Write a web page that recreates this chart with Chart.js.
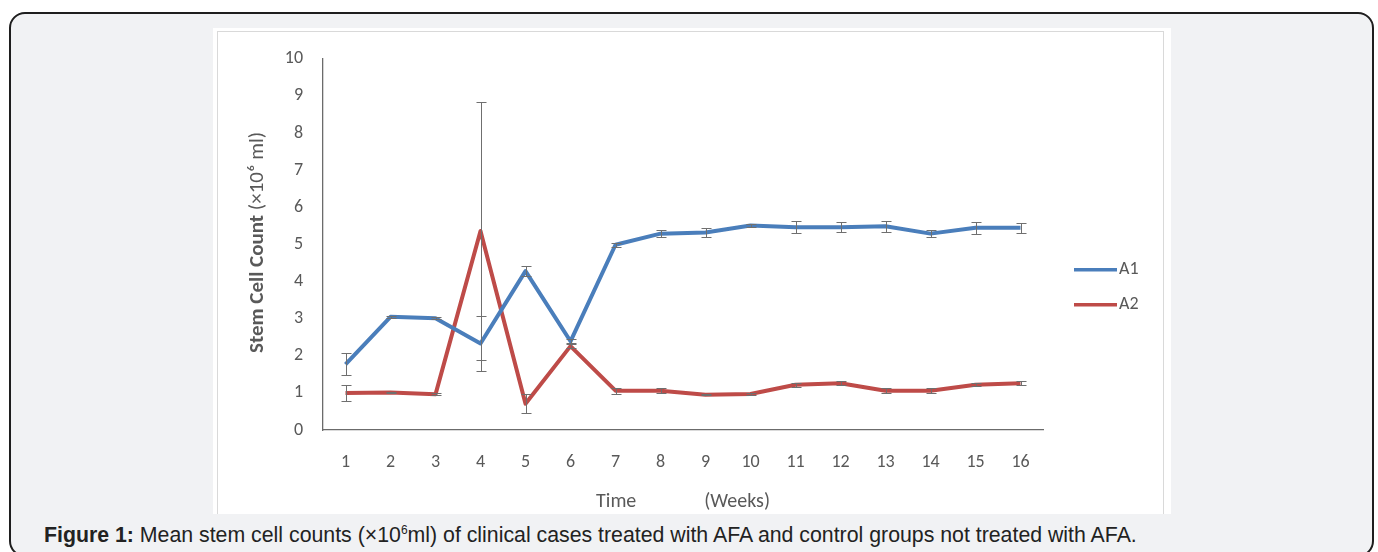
<!DOCTYPE html>
<html>
<head>
<meta charset="utf-8">
<script src="https://cdn.jsdelivr.net/npm/chart.js@4"></script>
<style>
  html, body { margin: 0; padding: 0; background: #fff; width: 1378px; height: 552px; overflow: hidden; }
  #frame {
    position: absolute; left: 9px; top: 12px; width: 1361px; height: 541px;
    border: 2.5px solid #1e1e1e; border-radius: 16px; background: #f1f2f4;
  }
  #figure {
    position: absolute; left: 213px; top: 28px; width: 958px; height: 486px;
    background: #fff; overflow: hidden;
  }
  #chartBorder {
    position: absolute; left: 4px; top: 3px; width: 945px; height: 520px;
    border: 1px solid #d9d9d9;
  }
  #chartBox { position: absolute; left: 0; top: 0; width: 958px; height: 487px; }
  #caption {
    position: absolute; left: 44px; top: 525px; line-height: 21px;
    font-family: "Liberation Sans", Arial, sans-serif; font-size: 21.3px; color: #222;
    white-space: nowrap;
  }
  #caption sup { font-size: 12px; line-height: 0; vertical-align: 8px; }
</style>
</head>
<body>
<div id="frame"></div>
<div id="figure">
  <div id="chartBorder"></div>
  <div id="chartBox"><canvas id="stemChart"></canvas></div>
</div>
<div id="caption"><b>Figure 1:</b> Mean stem cell counts (×10<sup>6</sup>ml) of clinical cases treated with AFA and control groups not treated with AFA.</div>

<script>
const weeks = ['1', '2', '3', '4', '5', '6', '7', '8', '9', '10', '11', '12', '13', '14', '15', '16'];

const a1Mean = [1.77, 3.05, 3.01, 2.33, 4.28, 2.39, 4.99, 5.29, 5.32, 5.51, 5.46, 5.46, 5.49, 5.29, 5.45, 5.45];
const a1Err = [0.30, 0.03, 0.03, 0.74, 0.14, 0.05, 0.05, 0.09, 0.13, 0.03, 0.16, 0.13, 0.15, 0.09, 0.16, 0.13];

const a2Mean = [1.00, 1.01, 0.96, 5.36, 0.71, 2.26, 1.06, 1.06, 0.95, 0.97, 1.22, 1.26, 1.06, 1.06, 1.22, 1.26];
const a2Err = [0.22, 0.02, 0.03, 3.48, 0.25, 0.05, 0.08, 0.07, 0.02, 0.02, 0.05, 0.05, 0.06, 0.06, 0.04, 0.05];

const Y_MIN = 0;
const Y_MAX = 10;

const TEXT_COLOR = '#595959';
const AXIS_COLOR = '#6b6b6b';
const FONT_FAMILY = 'Carlito, Lato, sans-serif';

// excel style error bars (mean +/- sd) with small caps
const errorBarsPlugin = {
  id: 'errorBars',
  afterDatasetsDraw(chart) {
    const { ctx } = chart;
    const x = chart.scales.x;
    const y = chart.scales.y;
    ctx.save();
    ctx.strokeStyle = '#6f6f6f';
    ctx.lineWidth = 1;
    chart.data.datasets.forEach((ds) => {
      ds.data.forEach((value, i) => {
        const err = ds.errors[i];
        const px = Math.round(x.getPixelForValue(i)) + 0.5;
        const top = Math.round(y.getPixelForValue(value + err)) + 0.5;
        const bottom = Math.round(y.getPixelForValue(value - err)) + 0.5;
        ctx.beginPath();
        ctx.moveTo(px, top);
        ctx.lineTo(px, bottom);
        ctx.moveTo(px - 5, top);
        ctx.lineTo(px + 5, top);
        ctx.moveTo(px - 5, bottom);
        ctx.lineTo(px + 5, bottom);
        ctx.stroke();
      });
    });
    ctx.restore();
  },
};

// legend to the right of the plot, line swatch + label
const sideLegendPlugin = {
  id: 'sideLegend',
  afterDraw(chart) {
    const { ctx, chartArea } = chart;
    const startX = chartArea.right + 31;
    const startY = chartArea.top + 211;
    ctx.save();
    ctx.font = `18px ${FONT_FAMILY}`;
    ctx.textBaseline = 'middle';
    ctx.fillStyle = TEXT_COLOR;
    chart.data.datasets.forEach((ds, i) => {
      const yy = startY + i * 35;
      ctx.strokeStyle = ds.borderColor;
      ctx.lineWidth = 3.5;
      ctx.beginPath();
      ctx.moveTo(startX, yy);
      ctx.lineTo(startX + 43, yy);
      ctx.stroke();
      ctx.fillText(ds.label, startX + 45, yy);
    });
    ctx.restore();
  },
};

// y title: bold words, light unit part
const yTitlePlugin = {
  id: 'yTitle',
  afterDraw(chart) {
    const { ctx, chartArea } = chart;
    const boldPart = 'Stem Cell Count ';
    const lightPart = '(×10⁶ ml)';
    const size = 21;
    ctx.save();
    ctx.translate(45, (chartArea.top + chartArea.bottom) / 2 - 2);
    ctx.rotate(-Math.PI / 2);
    ctx.textBaseline = 'middle';
    ctx.fillStyle = TEXT_COLOR;
    ctx.font = `bold ${size}px ${FONT_FAMILY}`;
    const w1 = ctx.measureText(boldPart).width;
    ctx.font = `300 ${size}px ${FONT_FAMILY}`;
    const w2 = ctx.measureText(lightPart).width;
    const start = -(w1 + w2) / 2;
    ctx.font = `bold ${size}px ${FONT_FAMILY}`;
    ctx.fillText(boldPart, start, 0);
    ctx.font = `300 ${size}px ${FONT_FAMILY}`;
    ctx.fillText(lightPart, start + w1, 0);
    ctx.restore();
  },
};

const LINE_STYLE = {
  borderWidth: 4,
  pointRadius: 0,
  pointHoverRadius: 0,
  tension: 0,
  fill: false,
  borderJoinStyle: 'round',
};

const CHART_DATA = {
  labels: weeks,
  datasets: [
    {
      label: 'A1',
      data: a1Mean,
      errors: a1Err,
      borderColor: '#4a7ebb',
      backgroundColor: '#4a7ebb',
      ...LINE_STYLE,
    },
    {
      label: 'A2',
      data: a2Mean,
      errors: a2Err,
      borderColor: '#be4b48',
      backgroundColor: '#be4b48',
      ...LINE_STYLE,
    },
  ],
};

const SCALES = {
  x: {
    offset: true,
    grid: { display: true, color: 'transparent', drawTicks: false },
    border: { display: true, color: AXIS_COLOR, width: 1.3 },
    ticks: {
      color: TEXT_COLOR,
      padding: 22,
      maxRotation: 0,
      autoSkip: false,
      font: { family: FONT_FAMILY, size: 18 },
    },
    title: {
      display: true,
      text: 'Time               (Weeks)',
      color: TEXT_COLOR,
      font: { family: FONT_FAMILY, size: 20 },
      padding: { top: 0, bottom: 1 },
    },
    afterFit: (scale) => {
      scale.height = 85;
    },
  },
  y: {
    min: Y_MIN,
    max: Y_MAX,
    grid: { display: true, color: 'transparent', drawTicks: false },
    border: { display: true, color: AXIS_COLOR, width: 1.3 },
    ticks: {
      stepSize: 1,
      color: TEXT_COLOR,
      padding: 20,
      font: { family: FONT_FAMILY, size: 18 },
    },
    afterFit: (scale) => {
      scale.width = 110;
    },
  },
};

const OPTIONS = {
  responsive: true,
  maintainAspectRatio: false,
  animation: false,
  layout: { padding: { left: 0, top: 26, right: 128, bottom: 0 } },
  plugins: {
    legend: { display: false },
    title: { display: false },
    tooltip: { enabled: false },
  },
  scales: SCALES,
};

new Chart(document.querySelector('#stemChart'), {
  type: 'line',
  data: CHART_DATA,
  options: OPTIONS,
  plugins: [errorBarsPlugin, sideLegendPlugin, yTitlePlugin],
});
</script>
</body>
</html>
